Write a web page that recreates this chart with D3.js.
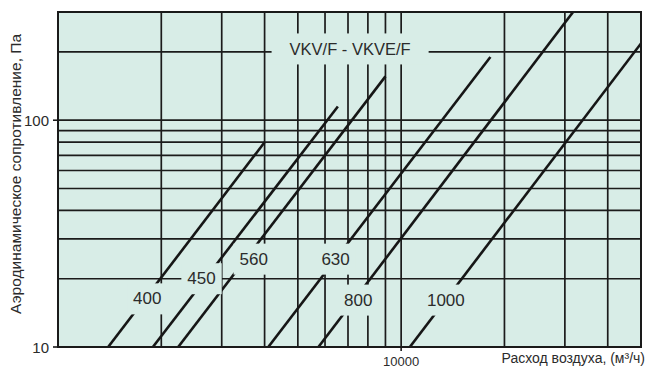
<!DOCTYPE html>
<html>
<head>
<meta charset="utf-8">
<script src="https://cdn.jsdelivr.net/npm/d3@7/dist/d3.min.js"></script>
<style>
  html, body { margin: 0; padding: 0; background: #ffffff; }
  svg { display: block; }
  text { font-family: "Liberation Sans", Arial, sans-serif; fill: #2b2b2b; }
</style>
</head>
<body>
<svg id="chart" width="645" height="368"></svg>
<script>
// ---- data ----
const sizes = ["400", "450", "560", "630", "800", "1000"];
const flowStart = [1400, 1890, 2240, 4100, 5740, 10600];      // m3/h
const pressureStart = [10, 10, 10, 10, 10, 10];               // Pa
const flowEnd = [4000, 6540, 9000, 18200, 31700, 50000];
const pressureEnd = [80, 115, 156, 190, 300, 218];
const labelFlow = [1820, 2620, 3720, 6440, 7500, 13500];
const labelPressure = [16.3, 20, 24.4, 24.4, 16.1, 16.1];
const xGrid = [2000, 3000, 4000, 5000, 6000, 7000, 8000, 9000, 10000, 20000, 30000, 40000];
const yGrid = [20, 30, 40, 50, 60, 70, 80, 90, 100, 200];
const xTickLabels = [10000];
const yTickLabels = [10, 100];
const title = "VKV/F - VKVE/F";
const titlePos = [7100, 200];
const xTitle = "Расход воздуха, (м³/ч)";
const yTitle = "Аэродинамическое сопротивление, Па";

// ---- layout ----
const pL = 58, pR = 641, pT = 12, pB = 347;
const bg = "#d8ede7";
const gridColor = "#1b1b1b";

const svg = d3.select("#chart");
const x = d3.scaleLog().domain([1000, 50000]).range([pL, pR]);
const y = d3.scaleLog().domain([10, 300]).range([pB, pT]);

svg.append("defs").append("clipPath").attr("id", "plotClip")
  .append("rect").attr("x", pL).attr("y", pT)
  .attr("width", pR - pL).attr("height", pB - pT);

svg.append("rect").attr("x", pL).attr("y", pT)
  .attr("width", pR - pL).attr("height", pB - pT)
  .attr("fill", bg);

const grid = svg.append("g");
grid.selectAll("line.v").data(xGrid).join("line").attr("class", "v")
  .attr("x1", d => x(d)).attr("x2", d => x(d))
  .attr("y1", pT).attr("y2", pB)
  .attr("stroke", gridColor).attr("stroke-width", 1.7);
grid.selectAll("line.h").data(yGrid).join("line").attr("class", "h")
  .attr("y1", d => y(d)).attr("y2", d => y(d))
  .attr("x1", pL).attr("x2", pR)
  .attr("stroke", gridColor).attr("stroke-width", 1.7);

// curves
const curves = sizes.map((s, i) => ({
  size: s,
  pts: [[flowStart[i], pressureStart[i]], [flowEnd[i], pressureEnd[i]]]
}));
const line = d3.line().x(d => x(d[0])).y(d => y(d[1]));
svg.append("g").attr("clip-path", "url(#plotClip)")
  .selectAll("path").data(curves).join("path")
  .attr("d", d => line(d.pts))
  .attr("fill", "none").attr("stroke", "#161616").attr("stroke-width", 2.6);

// labels with background boxes
function boxedLabel(cx, cy, txt, padX, h, fs) {
  const g = svg.append("g");
  const rect = g.append("rect").attr("fill", bg);
  const t = g.append("text").attr("x", cx).attr("y", cy)
    .attr("text-anchor", "middle").attr("dominant-baseline", "central")
    .attr("font-size", fs).text(txt);
  const w = t.node().getComputedTextLength();
  rect.attr("x", cx - w / 2 - padX).attr("y", cy - h / 2)
    .attr("width", w + 2 * padX).attr("height", h);
}
sizes.forEach((s, i) => boxedLabel(x(labelFlow[i]), y(labelPressure[i]), s, 6, 31, 17));
boxedLabel(x(titlePos[0]), y(titlePos[1]) - 3, title, 18, 31, 16.5);

// border
svg.append("rect").attr("x", pL).attr("y", pT)
  .attr("width", pR - pL).attr("height", pB - pT)
  .attr("fill", "none").attr("stroke", "#1a1a1a").attr("stroke-width", 2);

// y ticks
const yt = svg.append("g");
yt.selectAll("line").data(yTickLabels).join("line")
  .attr("x1", pL - 5).attr("x2", pL)
  .attr("y1", d => y(d)).attr("y2", d => y(d))
  .attr("stroke", "#1a1a1a").attr("stroke-width", 1.6);
yt.selectAll("text").data(yTickLabels).join("text")
  .attr("x", pL - 9).attr("y", d => y(d))
  .attr("text-anchor", "end").attr("dominant-baseline", "central")
  .attr("font-size", 15).text(d => d);

// x ticks
const xt = svg.append("g");
xt.selectAll("line").data(xTickLabels).join("line")
  .attr("x1", d => x(d)).attr("x2", d => x(d))
  .attr("y1", pB).attr("y2", pB + 4)
  .attr("stroke", "#1a1a1a").attr("stroke-width", 1.6);
xt.selectAll("text").data(xTickLabels).join("text")
  .attr("x", d => x(d)).attr("y", 365.5)
  .attr("text-anchor", "middle")
  .attr("font-size", 13).text(d => d);

// axis titles
svg.append("text").attr("x", 645).attr("y", 363)
  .attr("text-anchor", "end").attr("font-size", 14).text(xTitle);
svg.append("text")
  .attr("transform", `translate(21, ${(33 + 315) / 2}) rotate(-90)`)
  .attr("text-anchor", "middle").attr("font-size", 15.5).text(yTitle);
</script>
</body>
</html>
